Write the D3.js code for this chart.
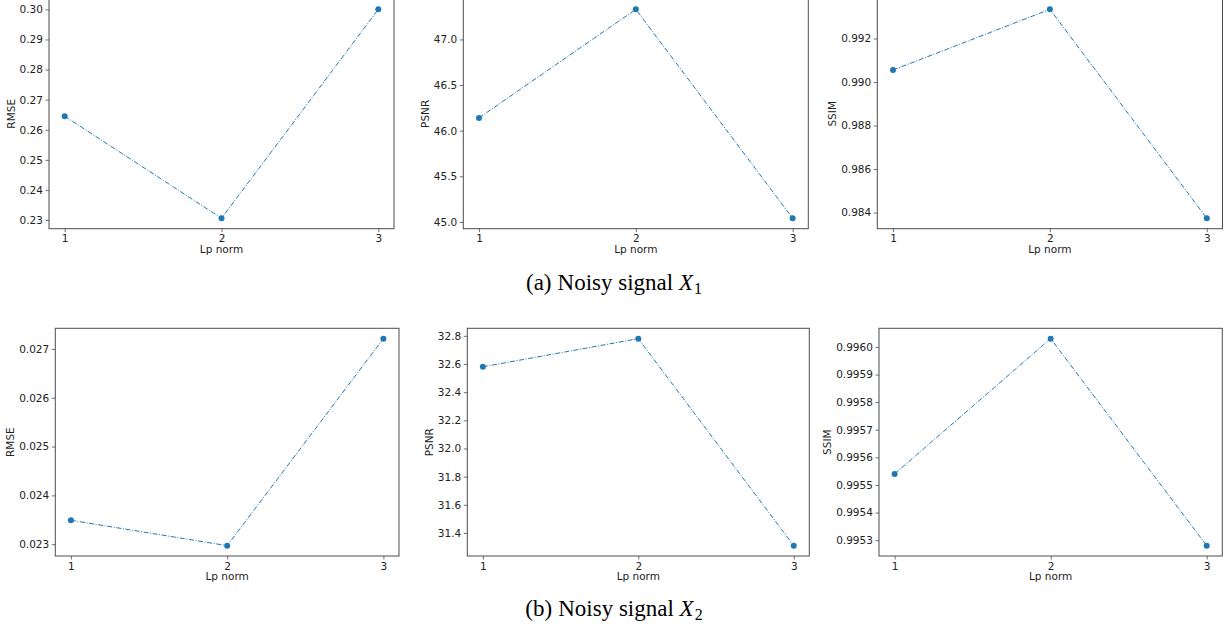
<!DOCTYPE html>
<html>
<head>
<meta charset="utf-8">
<script src="https://cdn.jsdelivr.net/npm/d3@7"></script>
<style>
  html, body { margin: 0; padding: 0; background: #fff; }
  svg { display: block; }
</style>
</head>
<body>
<svg id="chart" width="1228" height="628"></svg>
<script>
// ---------- data ----------
const lpNorms = [1, 2, 3];
const xTickValues = [1, 2, 3];

const rmseX1 = [0.2645, 0.2306, 0.3000];
const psnrX1 = [46.14, 47.33, 45.04];
const ssimX1 = [0.99055, 0.99334, 0.98374];

const rmseX2 = [0.02349, 0.02297, 0.02721];
const psnrX2 = [32.58, 32.78, 31.31];
const ssimX2 = [0.99554, 0.99603, 0.99528];

const rmseX1Ticks = [0.23, 0.24, 0.25, 0.26, 0.27, 0.28, 0.29, 0.30];
const psnrX1Ticks = [45.0, 45.5, 46.0, 46.5, 47.0];
const ssimX1Ticks = [0.984, 0.986, 0.988, 0.990, 0.992];
const rmseX2Ticks = [0.023, 0.024, 0.025, 0.026, 0.027];
const psnrX2Ticks = [31.4, 31.6, 31.8, 32.0, 32.2, 32.4, 32.6, 32.8];
const ssimX2Ticks = [0.9953, 0.9954, 0.9955, 0.9956, 0.9957, 0.9958, 0.9959, 0.9960];

const xLabel = "Lp norm";
const captionA = ["(a)", "Noisy signal ", "X", "1"];
const captionB = ["(b)", "Noisy signal ", "X", "2"];

// ---------- layout ----------
const COLOR = "#1f77b4";
const SPINE = "#4d4d4d";
const FONT = "DejaVu Sans, sans-serif";
const FS = 10.5;

const panels = [
  { vals: rmseX1, ticks: rmseX1Ticks, fmt: ".2f", label: "RMSE", l: 49,    r: 394,    t: -1.1,  b: 228.7 },
  { vals: psnrX1, ticks: psnrX1Ticks, fmt: ".1f", label: "PSNR", l: 463.3, r: 808.3,  t: -1.1,  b: 228.7 },
  { vals: ssimX1, ticks: ssimX1Ticks, fmt: ".3f", label: "SSIM", l: 877.3, r: 1222.5, t: -1.1,  b: 228.7 },
  { vals: rmseX2, ticks: rmseX2Ticks, fmt: ".3f", label: "RMSE", l: 55.3,  r: 399,    t: 328.3, b: 556 },
  { vals: psnrX2, ticks: psnrX2Ticks, fmt: ".1f", label: "PSNR", l: 467.3, r: 809.3,  t: 328.3, b: 556 },
  { vals: ssimX2, ticks: ssimX2Ticks, fmt: ".4f", label: "SSIM", l: 879,   r: 1222.3, t: 328.3, b: 556 }
];

const svg = d3.select("#chart");
svg.append("rect").attr("width", 1228).attr("height", 628).attr("fill", "#fff");

panels.forEach(p => {
  const g = svg.append("g");
  const x = d3.scaleLinear().domain([0.9, 3.1]).range([p.l, p.r]);
  const [mn, mx] = d3.extent(p.vals);
  const m = (mx - mn) * 0.05;
  const y = d3.scaleLinear().domain([mn - m, mx + m]).range([p.b, p.t]);

  // frame
  g.append("rect")
    .attr("x", p.l).attr("y", p.t)
    .attr("width", p.r - p.l).attr("height", p.b - p.t)
    .attr("fill", "none").attr("stroke", SPINE).attr("stroke-width", 1);

  // x axis
  const gx = g.append("g")
    .attr("transform", `translate(0,${p.b})`)
    .call(d3.axisBottom(x).tickValues(xTickValues).tickFormat(d3.format("d"))
      .tickSize(3.5).tickPadding(2.6).tickSizeOuter(0));
  gx.select(".domain").remove();

  // y axis
  const gy = g.append("g")
    .attr("transform", `translate(${p.l},0)`)
    .call(d3.axisLeft(y).tickValues(p.ticks).tickFormat(d3.format(p.fmt))
      .tickSize(3.5).tickPadding(2.6).tickSizeOuter(0));
  gy.select(".domain").remove();

  [gx, gy].forEach(a => {
    a.selectAll(".tick line").attr("stroke", SPINE).attr("stroke-width", 0.8);
    a.selectAll(".tick text").attr("fill", "#222")
      .style("font-family", FONT).style("font-size", FS + "px");
  });

  // x label
  g.append("text")
    .attr("x", (p.l + p.r) / 2).attr("y", p.b + 24)
    .attr("text-anchor", "middle")
    .attr("fill", "#222")
    .style("font-family", FONT).style("font-size", FS + "px")
    .text(xLabel);

  // y label, placed beside the tick labels like matplotlib
  const bb = gy.node().getBBox();
  const lx = p.l + bb.x - 8.5;
  g.append("text")
    .attr("transform", `translate(${lx},${(p.t + p.b) / 2}) rotate(-90)`)
    .attr("text-anchor", "middle")
    .attr("dy", "0.35em")
    .attr("fill", "#222")
    .style("font-family", FONT).style("font-size", FS + "px")
    .text(p.label);

  // line
  const pts = lpNorms.map((d, i) => [d, p.vals[i]]);
  g.append("path")
    .datum(pts)
    .attr("d", d3.line().x(d => x(d[0])).y(d => y(d[1])))
    .attr("fill", "none")
    .attr("stroke", COLOR)
    .attr("stroke-width", 1)
    .attr("stroke-dasharray", "5,1.6,1,1.6");

  // markers
  g.selectAll("circle.pt").data(pts).enter().append("circle")
    .attr("class", "pt")
    .attr("cx", d => x(d[0])).attr("cy", d => y(d[1]))
    .attr("r", 3).attr("fill", COLOR);
});

// captions
function caption(parts, cx, baseline) {
  const t = svg.append("text")
    .attr("x", cx).attr("y", baseline)
    .attr("text-anchor", "middle")
    .attr("fill", "#000")
    .style("font-family", "Liberation Serif, Times New Roman, serif")
    .style("font-size", "23px");
  t.append("tspan").text(parts[0]);
  t.append("tspan").attr("dx", 6).text(parts[1]);
  t.append("tspan").style("font-style", "italic").text(parts[2]);
  t.append("tspan").attr("dx", 1).attr("dy", 4).style("font-size", "16px").text(parts[3]);
}
caption(captionA, 614, 290);
caption(captionB, 614, 616);
</script>
</body>
</html>
